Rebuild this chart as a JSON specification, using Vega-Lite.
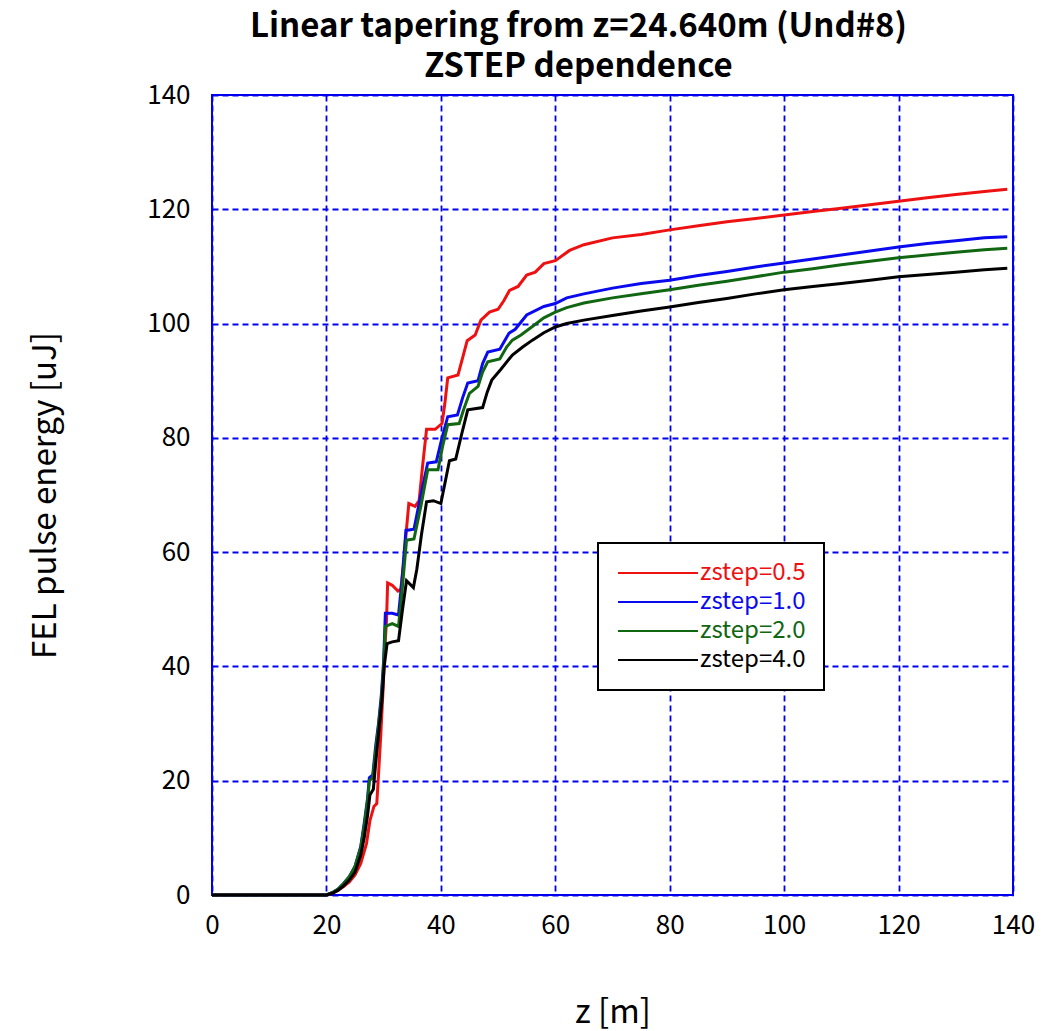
{
  "$schema": "https://vega.github.io/schema/vega-lite/v6.json",
  "autosize": {"type": "none"},
  "padding": {"left": 212, "top": 95, "right": 46, "bottom": 136},
  "width": 801,
  "height": 800,
  "background": "white",
  "title": {
    "text": ["Linear tapering from z=24.640m (Und#8)", "ZSTEP dependence"],
    "font": "Noto Sans CJK JP",
    "fontSize": 33,
    "fontWeight": "bold",
    "color": "black",
    "lineHeight": 40,
    "anchor": "middle",
    "dx": -34,
    "offset": -2
  },
  "config": {
    "view": {"stroke": "#0000ee", "strokeWidth": 2},
    "axis": {
      "labelFont": "Noto Sans CJK JP",
      "titleFont": "Noto Sans CJK JP",
      "labelFontSize": 26,
      "titleFontSize": 33,
      "titleFontWeight": "normal",
      "labelColor": "black",
      "titleColor": "black",
      "domain": false,
      "ticks": false,
      "grid": true,
      "gridColor": "#0000ee",
      "gridDash": [6, 4],
      "gridWidth": 1.8,
      "gridOpacity": 1
    }
  },
  "data": {
    "values": [
      {"s":"zstep=0.5","z":0,"E":0},{"s":"zstep=0.5","z":20,"E":0},{"s":"zstep=0.5","z":21,"E":0.3},{"s":"zstep=0.5","z":22,"E":0.8},{"s":"zstep=0.5","z":23,"E":1.5},{"s":"zstep=0.5","z":24,"E":2.3},{"s":"zstep=0.5","z":25,"E":3.5},{"s":"zstep=0.5","z":26,"E":5.5},{"s":"zstep=0.5","z":27,"E":9},{"s":"zstep=0.5","z":27.6,"E":13},{"s":"zstep=0.5","z":28.3,"E":15.5},{"s":"zstep=0.5","z":28.8,"E":16},{"s":"zstep=0.5","z":29.1,"E":21},{"s":"zstep=0.5","z":29.5,"E":28},{"s":"zstep=0.5","z":29.9,"E":36},{"s":"zstep=0.5","z":30.2,"E":43},{"s":"zstep=0.5","z":30.5,"E":48},{"s":"zstep=0.5","z":30.7,"E":54.6},{"s":"zstep=0.5","z":31.5,"E":54.2},{"s":"zstep=0.5","z":32.5,"E":53.2},{"s":"zstep=0.5","z":33,"E":53.5},{"s":"zstep=0.5","z":33.5,"E":58},{"s":"zstep=0.5","z":33.9,"E":63},{"s":"zstep=0.5","z":34.4,"E":68.5},{"s":"zstep=0.5","z":35.5,"E":68},{"s":"zstep=0.5","z":36.2,"E":69},{"s":"zstep=0.5","z":36.8,"E":75},{"s":"zstep=0.5","z":37.5,"E":81.5},{"s":"zstep=0.5","z":39,"E":81.5},{"s":"zstep=0.5","z":40.2,"E":82.5},{"s":"zstep=0.5","z":40.7,"E":86},{"s":"zstep=0.5","z":41.2,"E":90.5},{"s":"zstep=0.5","z":43,"E":91},{"s":"zstep=0.5","z":43.8,"E":94},{"s":"zstep=0.5","z":44.6,"E":97},{"s":"zstep=0.5","z":46,"E":98},{"s":"zstep=0.5","z":47,"E":100.6},{"s":"zstep=0.5","z":48.5,"E":102},{"s":"zstep=0.5","z":50,"E":102.5},{"s":"zstep=0.5","z":51,"E":104},{"s":"zstep=0.5","z":52,"E":105.8},{"s":"zstep=0.5","z":53.5,"E":106.5},{"s":"zstep=0.5","z":55,"E":108.5},{"s":"zstep=0.5","z":56.5,"E":109},{"s":"zstep=0.5","z":58,"E":110.5},{"s":"zstep=0.5","z":60,"E":111},{"s":"zstep=0.5","z":62.5,"E":112.8},{"s":"zstep=0.5","z":65,"E":113.8},{"s":"zstep=0.5","z":70,"E":115},{"s":"zstep=0.5","z":75,"E":115.6},{"s":"zstep=0.5","z":80,"E":116.4},{"s":"zstep=0.5","z":85,"E":117.1},{"s":"zstep=0.5","z":90,"E":117.8},{"s":"zstep=0.5","z":95,"E":118.4},{"s":"zstep=0.5","z":100,"E":119},{"s":"zstep=0.5","z":105,"E":119.6},{"s":"zstep=0.5","z":110,"E":120.2},{"s":"zstep=0.5","z":115,"E":120.8},{"s":"zstep=0.5","z":120,"E":121.4},{"s":"zstep=0.5","z":125,"E":122},{"s":"zstep=0.5","z":130,"E":122.6},{"s":"zstep=0.5","z":135,"E":123.1},{"s":"zstep=0.5","z":139,"E":123.5},

      {"s":"zstep=1.0","z":0,"E":0},{"s":"zstep=1.0","z":20,"E":0},{"s":"zstep=1.0","z":21,"E":0.4},{"s":"zstep=1.0","z":22,"E":1},{"s":"zstep=1.0","z":23,"E":2},{"s":"zstep=1.0","z":24,"E":3.2},{"s":"zstep=1.0","z":25,"E":5},{"s":"zstep=1.0","z":26,"E":8.5},{"s":"zstep=1.0","z":26.6,"E":12.5},{"s":"zstep=1.0","z":27.2,"E":17},{"s":"zstep=1.0","z":27.5,"E":20.5},{"s":"zstep=1.0","z":28.1,"E":21},{"s":"zstep=1.0","z":28.6,"E":26},{"s":"zstep=1.0","z":29.1,"E":30},{"s":"zstep=1.0","z":29.6,"E":35},{"s":"zstep=1.0","z":30,"E":41},{"s":"zstep=1.0","z":30.3,"E":49.3},{"s":"zstep=1.0","z":31.5,"E":49.3},{"s":"zstep=1.0","z":32.6,"E":49},{"s":"zstep=1.0","z":33.2,"E":55},{"s":"zstep=1.0","z":33.9,"E":63.8},{"s":"zstep=1.0","z":35.3,"E":64},{"s":"zstep=1.0","z":36.5,"E":70},{"s":"zstep=1.0","z":37.7,"E":75.6},{"s":"zstep=1.0","z":39.2,"E":75.8},{"s":"zstep=1.0","z":40.2,"E":80},{"s":"zstep=1.0","z":41.2,"E":83.7},{"s":"zstep=1.0","z":42.9,"E":84},{"s":"zstep=1.0","z":43.8,"E":87},{"s":"zstep=1.0","z":44.7,"E":89.6},{"s":"zstep=1.0","z":46.5,"E":90},{"s":"zstep=1.0","z":47.3,"E":93},{"s":"zstep=1.0","z":48.2,"E":95},{"s":"zstep=1.0","z":50.3,"E":95.5},{"s":"zstep=1.0","z":51.9,"E":98.3},{"s":"zstep=1.0","z":53,"E":99},{"s":"zstep=1.0","z":55,"E":101.5},{"s":"zstep=1.0","z":58,"E":103},{"s":"zstep=1.0","z":60,"E":103.5},{"s":"zstep=1.0","z":62,"E":104.5},{"s":"zstep=1.0","z":65,"E":105.2},{"s":"zstep=1.0","z":70,"E":106.2},{"s":"zstep=1.0","z":75,"E":107},{"s":"zstep=1.0","z":80,"E":107.6},{"s":"zstep=1.0","z":85,"E":108.4},{"s":"zstep=1.0","z":90,"E":109.1},{"s":"zstep=1.0","z":95,"E":109.9},{"s":"zstep=1.0","z":100,"E":110.6},{"s":"zstep=1.0","z":105,"E":111.3},{"s":"zstep=1.0","z":110,"E":112},{"s":"zstep=1.0","z":115,"E":112.7},{"s":"zstep=1.0","z":120,"E":113.4},{"s":"zstep=1.0","z":125,"E":114},{"s":"zstep=1.0","z":130,"E":114.5},{"s":"zstep=1.0","z":135,"E":115},{"s":"zstep=1.0","z":139,"E":115.2},

      {"s":"zstep=2.0","z":0,"E":0},{"s":"zstep=2.0","z":20,"E":0},{"s":"zstep=2.0","z":21,"E":0.4},{"s":"zstep=2.0","z":22,"E":1},{"s":"zstep=2.0","z":23,"E":2},{"s":"zstep=2.0","z":24,"E":3.2},{"s":"zstep=2.0","z":25,"E":5},{"s":"zstep=2.0","z":26,"E":8.3},{"s":"zstep=2.0","z":26.6,"E":12},{"s":"zstep=2.0","z":27.2,"E":16.5},{"s":"zstep=2.0","z":27.5,"E":20},{"s":"zstep=2.0","z":28.1,"E":20.5},{"s":"zstep=2.0","z":28.6,"E":25},{"s":"zstep=2.0","z":29.1,"E":29.5},{"s":"zstep=2.0","z":29.6,"E":34},{"s":"zstep=2.0","z":30,"E":40},{"s":"zstep=2.0","z":30.3,"E":47},{"s":"zstep=2.0","z":31.5,"E":47.5},{"s":"zstep=2.0","z":32.6,"E":47},{"s":"zstep=2.0","z":33.2,"E":53},{"s":"zstep=2.0","z":34,"E":62.1},{"s":"zstep=2.0","z":35.3,"E":62.3},{"s":"zstep=2.0","z":36.5,"E":68},{"s":"zstep=2.0","z":37.7,"E":74.4},{"s":"zstep=2.0","z":39.5,"E":74.4},{"s":"zstep=2.0","z":40.3,"E":78.5},{"s":"zstep=2.0","z":41.2,"E":82.3},{"s":"zstep=2.0","z":43.2,"E":82.5},{"s":"zstep=2.0","z":44,"E":85},{"s":"zstep=2.0","z":45,"E":87.8},{"s":"zstep=2.0","z":46.5,"E":89},{"s":"zstep=2.0","z":47.3,"E":91.5},{"s":"zstep=2.0","z":48.2,"E":93.3},{"s":"zstep=2.0","z":50.3,"E":93.8},{"s":"zstep=2.0","z":51.5,"E":95.9},{"s":"zstep=2.0","z":52.5,"E":97.1},{"s":"zstep=2.0","z":54,"E":98},{"s":"zstep=2.0","z":56,"E":99.5},{"s":"zstep=2.0","z":58,"E":101},{"s":"zstep=2.0","z":60,"E":102},{"s":"zstep=2.0","z":62,"E":102.8},{"s":"zstep=2.0","z":65,"E":103.6},{"s":"zstep=2.0","z":70,"E":104.5},{"s":"zstep=2.0","z":75,"E":105.2},{"s":"zstep=2.0","z":80,"E":105.9},{"s":"zstep=2.0","z":85,"E":106.7},{"s":"zstep=2.0","z":90,"E":107.4},{"s":"zstep=2.0","z":95,"E":108.2},{"s":"zstep=2.0","z":100,"E":109},{"s":"zstep=2.0","z":105,"E":109.6},{"s":"zstep=2.0","z":110,"E":110.3},{"s":"zstep=2.0","z":115,"E":110.9},{"s":"zstep=2.0","z":120,"E":111.5},{"s":"zstep=2.0","z":125,"E":112},{"s":"zstep=2.0","z":130,"E":112.5},{"s":"zstep=2.0","z":135,"E":112.9},{"s":"zstep=2.0","z":139,"E":113.2},

      {"s":"zstep=4.0","z":0,"E":0},{"s":"zstep=4.0","z":20,"E":0},{"s":"zstep=4.0","z":21,"E":0.3},{"s":"zstep=4.0","z":22,"E":0.8},{"s":"zstep=4.0","z":23,"E":1.6},{"s":"zstep=4.0","z":24,"E":2.6},{"s":"zstep=4.0","z":25,"E":4},{"s":"zstep=4.0","z":26,"E":7},{"s":"zstep=4.0","z":26.6,"E":10},{"s":"zstep=4.0","z":27.2,"E":14},{"s":"zstep=4.0","z":27.6,"E":17.5},{"s":"zstep=4.0","z":28.2,"E":18.5},{"s":"zstep=4.0","z":28.7,"E":24},{"s":"zstep=4.0","z":29.2,"E":29},{"s":"zstep=4.0","z":29.7,"E":34},{"s":"zstep=4.0","z":30.1,"E":40},{"s":"zstep=4.0","z":30.6,"E":44},{"s":"zstep=4.0","z":31.5,"E":44.3},{"s":"zstep=4.0","z":32.6,"E":44.5},{"s":"zstep=4.0","z":33.3,"E":50},{"s":"zstep=4.0","z":34,"E":55},{"s":"zstep=4.0","z":35.2,"E":53.8},{"s":"zstep=4.0","z":35.8,"E":57},{"s":"zstep=4.0","z":36.6,"E":63},{"s":"zstep=4.0","z":37.5,"E":68.8},{"s":"zstep=4.0","z":38.7,"E":69},{"s":"zstep=4.0","z":40,"E":68.5},{"s":"zstep=4.0","z":40.8,"E":72.5},{"s":"zstep=4.0","z":41.5,"E":76},{"s":"zstep=4.0","z":42.6,"E":76.3},{"s":"zstep=4.0","z":43.6,"E":80.5},{"s":"zstep=4.0","z":44.7,"E":84.9},{"s":"zstep=4.0","z":47.3,"E":85.3},{"s":"zstep=4.0","z":48.1,"E":88},{"s":"zstep=4.0","z":48.9,"E":90.1},{"s":"zstep=4.0","z":50.5,"E":92},{"s":"zstep=4.0","z":52.5,"E":94.5},{"s":"zstep=4.0","z":54.3,"E":95.9},{"s":"zstep=4.0","z":56,"E":97.1},{"s":"zstep=4.0","z":58,"E":98.4},{"s":"zstep=4.0","z":60,"E":99.4},{"s":"zstep=4.0","z":62,"E":100},{"s":"zstep=4.0","z":65,"E":100.6},{"s":"zstep=4.0","z":70,"E":101.4},{"s":"zstep=4.0","z":75,"E":102.2},{"s":"zstep=4.0","z":80,"E":102.9},{"s":"zstep=4.0","z":85,"E":103.7},{"s":"zstep=4.0","z":90,"E":104.4},{"s":"zstep=4.0","z":95,"E":105.2},{"s":"zstep=4.0","z":100,"E":105.9},{"s":"zstep=4.0","z":105,"E":106.5},{"s":"zstep=4.0","z":110,"E":107},{"s":"zstep=4.0","z":115,"E":107.6},{"s":"zstep=4.0","z":120,"E":108.2},{"s":"zstep=4.0","z":125,"E":108.6},{"s":"zstep=4.0","z":130,"E":109},{"s":"zstep=4.0","z":135,"E":109.4},{"s":"zstep=4.0","z":139,"E":109.7}
    ]
  },
  "mark": {"type": "line", "strokeWidth": 3, "interpolate": "linear"},
  "encoding": {
    "x": {
      "field": "z", "type": "quantitative",
      "scale": {"domain": [0, 140], "nice": false, "zero": false},
      "axis": {"values": [0,20,40,60,80,100,120,140], "title": "z [m]", "labelPadding": 17, "titlePadding": 58, "labelFlush": false}
    },
    "y": {
      "field": "E", "type": "quantitative",
      "scale": {"domain": [0, 140], "nice": false},
      "axis": {"values": [0,20,40,60,80,100,120,140], "title": "FEL pulse energy [uJ]", "labelPadding": 22, "titlePadding": 84}
    },
    "color": {
      "field": "s", "type": "nominal",
      "scale": {"domain": ["zstep=0.5","zstep=1.0","zstep=2.0","zstep=4.0"], "range": ["#ee1111","#0a0aee","#116611","#000000"]},
      "legend": {
        "title": null,
        "orient": "none",
        "legendX": 386,
        "legendY": 448,
        "direction": "vertical",
        "fillColor": "white",
        "strokeColor": "black",
        "padding": 18,
        "symbolType": "M-1,0H7",
        "symbolSize": 400,
        "symbolStrokeWidth": 2,
        "symbolFillColor": "transparent",
        "labelFont": "Noto Sans CJK JP",
        "labelFontSize": 24,
        "labelOffset": 60,
        "rowPadding": 5,
        "labelLimit": 300,
        "encode": {
          "legend": {"update": {"strokeWidth": {"value": 2}}},
          "labels": {"update": {"fill": {"scale": "color", "field": "value"}}}
        }
      }
    },
    "order": {"field": "z", "type": "quantitative"}
  }
}
